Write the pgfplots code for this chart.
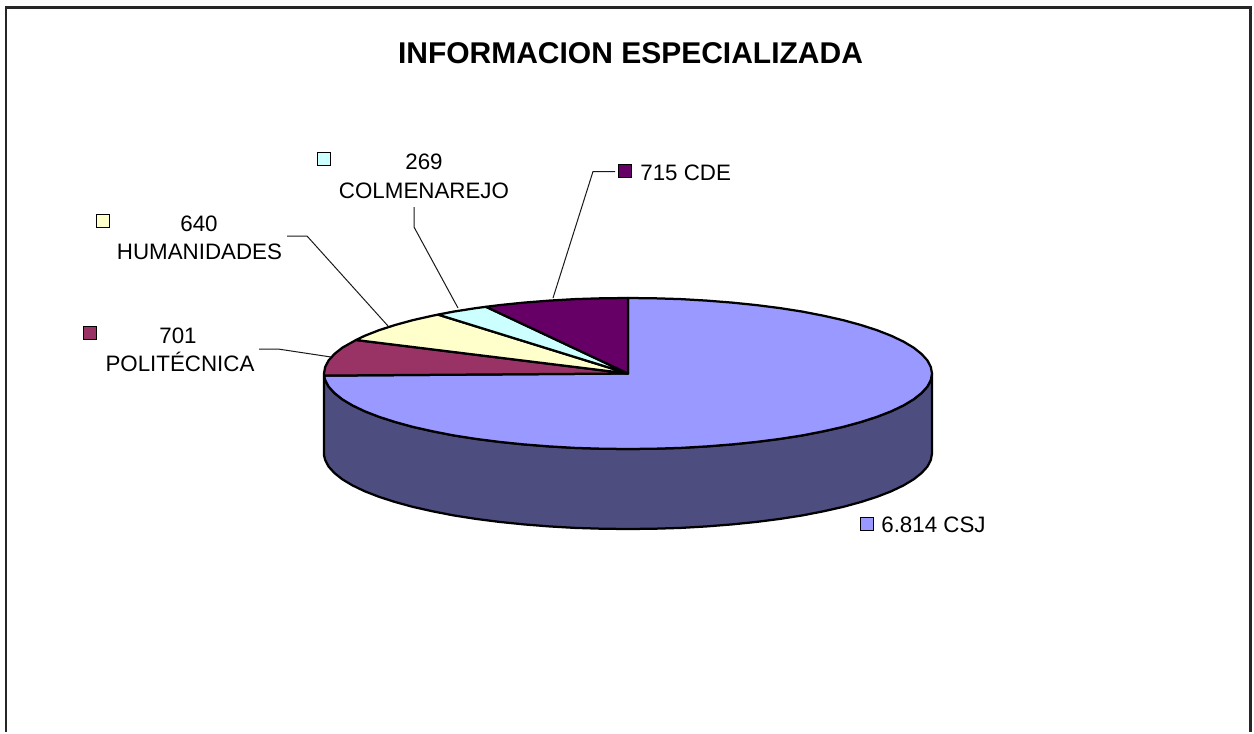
\documentclass[border=0pt]{standalone}
\usepackage{fontspec}
\setmainfont{Liberation Sans}
\usepackage{pgfplots}
\pgfplotsset{compat=1.18}
\definecolor{csj}{HTML}{9999FF}
\definecolor{csjside}{HTML}{4D4D80}
\definecolor{cde}{HTML}{660066}
\definecolor{colm}{HTML}{CCFFFF}
\definecolor{huma}{HTML}{FFFFCC}
\definecolor{poli}{HTML}{993366}
\newcommand{\lab}{\fontsize{13.4}{16}\selectfont}
\begin{document}
\begin{tikzpicture}[txt/.style={inner sep=0pt, font=\lab}]
\begin{axis}[
    scale only axis,
    width=752.4pt, height=439.2pt,
    xmin=0, xmax=1254,
    ymin=0, ymax=732,
    y dir=reverse,
    hide axis,
    clip=false,
    slice/.style={draw=black, line width=1.35pt, line join=round},
    leader/.style={draw=black!90, line width=0.6pt},
    key/.style={only marks, mark=square*, mark size=3.9pt,
        mark options={draw=black, line width=1.1pt, fill=#1}},
]
% background and frame (open at the bottom)
\addplot[draw=none, fill=white] coordinates {(0,0)(1254,0)(1254,732)(0,732)} --cycle;
\addplot[draw=black!85, line width=1.3pt] coordinates {(6,732)(6,7.5)(1250.5,7.5)(1250.5,732)};

% side wall
\addplot[slice, fill=csjside] coordinates {
    (932,373.5)(930.8,380.1)(927.4,386.6)(921.6,393)(913.7,399.3)(903.5,405.4)(891.3,411.25)
    (877,416.8)(860.9,422)(843,426.9)(823.4,431.3)(802.4,435.4)(780,438.9)(756.5,441.9)
    (732,444.4)(706.7,446.4)(680.8,447.9)(654.5,448.7)(628,449)
    (601.5,448.7)(575.2,447.9)(549.3,446.4)(524,444.4)(499.5,441.9)(476,438.9)(453.6,435.4)
    (432.6,431.3)(413,426.9)(395.1,422)(379,416.8)(364.7,411.25)(352.5,405.4)(342.3,399.3)
    (334.4,393)(328.6,386.6)(325.2,380.1)(324.1,375.6)
    (324.1,455.6)(325.2,460.1)(328.6,466.6)(334.4,473)(342.3,479.3)(352.5,485.4)(364.7,491.25)
    (379,496.8)(395.1,502)(413,506.9)(432.6,511.3)(453.6,515.4)(476,518.9)(499.5,521.9)
    (524,524.4)(549.3,526.4)(575.2,527.9)(601.5,528.7)(628,529)
    (654.5,528.7)(680.8,527.9)(706.7,526.4)(732,524.4)(756.5,521.9)(780,518.9)(802.4,515.4)
    (823.4,511.3)(843,506.9)(860.9,502)(877,496.8)(891.3,491.25)(903.5,485.4)(913.7,479.3)
    (921.6,473)(927.4,466.6)(930.8,460.1)(932,453.5)
} --cycle;

% 6.814 CSJ
\addplot[slice, fill=csj] coordinates {
    (628,373.5)(628,298)(654.5,298.3)(680.8,299.1)(706.7,300.6)(732,302.6)(756.5,305.1)(780,308.1)
    (802.4,311.6)(823.4,315.7)(843,320.1)(860.9,325)(877,330.2)(891.3,335.8)(903.5,341.6)
    (913.7,347.7)(921.6,354)(927.4,360.4)(930.8,366.9)(932,373.5)
    (930.8,380.1)(927.4,386.6)(921.6,393)(913.7,399.3)(903.5,405.4)(891.3,411.25)
    (877,416.8)(860.9,422)(843,426.9)(823.4,431.3)(802.4,435.4)(780,438.9)(756.5,441.9)
    (732,444.4)(706.7,446.4)(680.8,447.9)(654.5,448.7)(628,449)
    (601.5,448.7)(575.2,447.9)(549.3,446.4)(524,444.4)(499.5,441.9)(476,438.9)(453.6,435.4)
    (432.6,431.3)(413,426.9)(395.1,422)(379,416.8)(364.7,411.25)(352.5,405.4)(342.3,399.3)
    (334.4,393)(328.6,386.6)(325.2,380.1)(324.1,375.6)
} --cycle;
% 701 POLITECNICA
\addplot[slice, fill=poli] coordinates {
    (628,373.5)(324.1,375.6)(324,373.5)(325.2,366.9)(328.6,360.4)(334.4,354)(342.3,347.7)(356,340)
} --cycle;
% 640 HUMANIDADES
\addplot[slice, fill=huma] coordinates {
    (628,373.5)(356,340)(364.7,335.8)(379,330.2)(395.1,325)(413,320.1)(432.6,315.7)(438,314.6)
} --cycle;
% 269 COLMENAREJO
\addplot[slice, fill=colm] coordinates {
    (628,373.5)(438,314.6)(453.6,311.6)(476,308.1)(486,306.8)
} --cycle;
% 715 CDE
\addplot[slice, fill=cde] coordinates {
    (628,373.5)(486,306.8)(499.5,305.1)(524,302.6)(549.3,300.6)(575.2,299.1)(601.5,298.3)(628,298)
} --cycle;

% leader lines
\addplot[leader] coordinates {(615,171.5)(593,171.5)(553,298)};
\addplot[leader] coordinates {(414,207)(414,227)(458,308)};
\addplot[leader] coordinates {(287,236)(307,236)(388,326)};
\addplot[leader] coordinates {(259,349)(278,349)(331,357)};

% legend keys
\addplot[key=cde] coordinates {(625,171)};
\addplot[key=colm] coordinates {(324,159)};
\addplot[key=huma] coordinates {(103,221)};
\addplot[key=poli] coordinates {(90,333)};
\addplot[key=csj] coordinates {(867,524)};

% labels
\node[anchor=base, inner sep=0pt] at (axis cs:630.5,64) {\fontsize{18}{22}\selectfont\bfseries INFORMACION ESPECIALIZADA};
\node[anchor=base west, txt] at (axis cs:640,180) {715 CDE};
\node[anchor=base, txt] at (axis cs:424,169) {269};
\node[anchor=base, txt] at (axis cs:424,198) {COLMENAREJO};
\node[anchor=base, txt] at (axis cs:199,231) {640};
\node[anchor=base, txt] at (axis cs:199.5,259) {HUMANIDADES};
\node[anchor=base, txt] at (axis cs:178,343) {701};
\node[anchor=base, txt] at (axis cs:180,371) {POLITÉCNICA};
\node[anchor=base west, txt] at (axis cs:881,532) {6.814 CSJ};
\end{axis}
\end{tikzpicture}
\end{document}
